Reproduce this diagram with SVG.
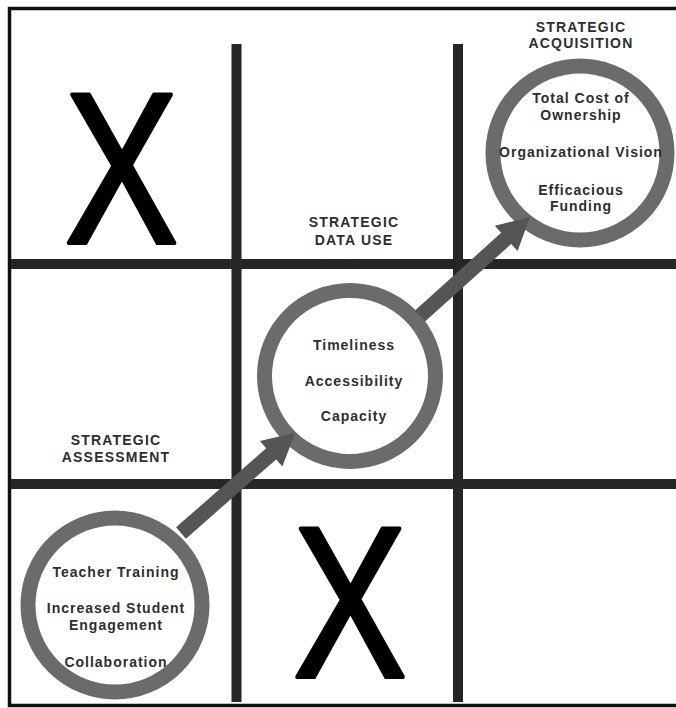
<svg xmlns="http://www.w3.org/2000/svg" width="676" height="708" viewBox="0 0 676 708">
  <style>
    .grid { stroke: #262626; stroke-width: 10; fill: none; }
    .border { stroke: #111; stroke-width: 3.5; fill: none; }
    .ring { fill: #fff; stroke: #6b6b6b; stroke-width: 15; }
    .hdr { font-family: "Liberation Sans", Arial, sans-serif; font-weight: bold; font-size: 14px; letter-spacing: 1.2px; fill: #2e2e2e; text-anchor: middle; }
    .lbl { font-family: "Liberation Sans", Arial, sans-serif; font-weight: bold; font-size: 14px; letter-spacing: 1px; fill: #2e2e2e; text-anchor: middle; }
    .x { font-family: "Liberation Sans", Arial, sans-serif; font-size: 216px; fill: #000; stroke: #000; stroke-width: 4; stroke-linejoin: round; text-anchor: middle; }
    .arrow { fill: #555; }
  </style>
  <rect x="0" y="0" width="676" height="708" fill="#fff"/>
  <g id="frame">
    <path class="border" d="M676,8.5 H9.5 V705.5 H676"/>
    <line class="grid" x1="236.5" y1="44" x2="236.5" y2="702"/>
    <line class="grid" x1="458" y1="44" x2="458" y2="702"/>
    <line class="grid" x1="11" y1="264" x2="676" y2="264"/>
    <line class="grid" x1="11" y1="484" x2="676" y2="484"/>
  </g>
  <g id="x-top-left">
    <text class="x" transform="translate(121.5,243) scale(0.79,1)" x="0" y="0">X</text>
  </g>
  <g id="x-bottom-middle">
    <text class="x" transform="translate(350,677) scale(0.79,1)" x="0" y="0">X</text>
  </g>
  <g id="strategic-acquisition">
    <text class="hdr" x="581" y="32">STRATEGIC</text>
    <text class="hdr" x="581" y="48">ACQUISITION</text>
    <circle class="ring" cx="580" cy="153" r="87"/>
    <text class="lbl" x="581" y="103">Total Cost of</text>
    <text class="lbl" x="581" y="120">Ownership</text>
    <text class="lbl" x="581" y="157">Organizational Vision</text>
    <text class="lbl" x="581" y="195">Efficacious</text>
    <text class="lbl" x="581" y="211">Funding</text>
  </g>
  <g id="strategic-data-use">
    <text class="hdr" x="354" y="227">STRATEGIC</text>
    <text class="hdr" x="354" y="245">DATA USE</text>
    <circle class="ring" cx="350" cy="376" r="85.5"/>
    <text class="lbl" x="354" y="350">Timeliness</text>
    <text class="lbl" x="354" y="386">Accessibility</text>
    <text class="lbl" x="354" y="421">Capacity</text>
  </g>
  <g id="strategic-assessment">
    <text class="hdr" x="116" y="445">STRATEGIC</text>
    <text class="hdr" x="116" y="462">ASSESSMENT</text>
    <circle class="ring" cx="115" cy="605" r="87"/>
    <text class="lbl" x="116" y="577">Teacher Training</text>
    <text class="lbl" x="116" y="613">Increased Student</text>
    <text class="lbl" x="116" y="630">Engagement</text>
    <text class="lbl" x="116" y="667">Collaboration</text>
  </g>
  <g id="connectors">
    <path class="arrow" transform="translate(181,533) rotate(-41.3)" d="M0,-7.5 H120 V-17 L152,0 L120,17 V7.5 H0 Z"/>
    <path class="arrow" transform="translate(420,316) rotate(-42)" d="M0,-7.5 H116 V-17 L148,0 L116,17 V7.5 H0 Z"/>
  </g>
</svg>
